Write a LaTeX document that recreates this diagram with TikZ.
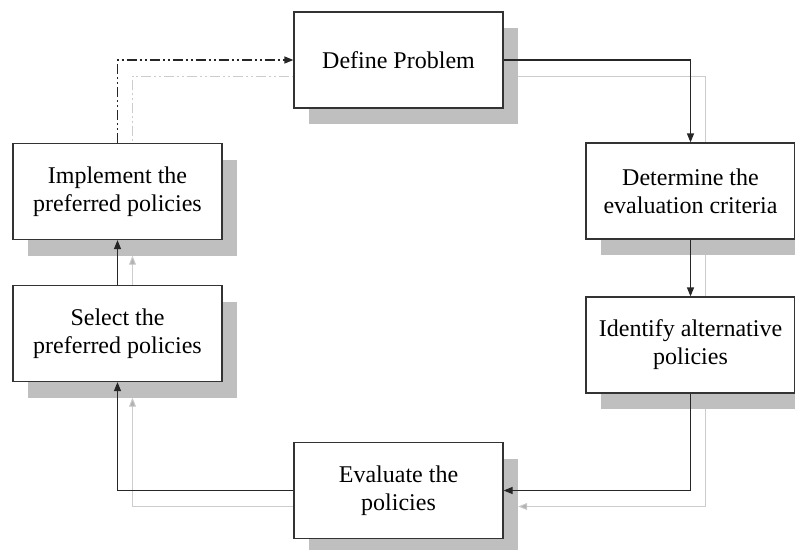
\documentclass[tikz,border=0pt]{standalone}
\usepackage{fontspec}
\setmainfont{Liberation Serif}
\usetikzlibrary{arrows.meta}

\begin{document}
\begin{tikzpicture}[x=1pt,y=1pt,yscale=-1,xscale=1,
    stepbox/.style={draw=black!80, line width=1.2pt, fill=white, minimum width=209pt, minimum height=96pt, inner sep=0pt, align=center, font=\fontsize{24}{28}\selectfont},
    shadebox/.style={fill=black!25, minimum width=209pt, minimum height=96pt, inner sep=0pt},
    flow/.style={draw=black!85, line width=1.2pt, -{Triangle[length=9pt,width=7pt]}},
    shadeflow/.style={draw=black!20, line width=0.9pt, -{Triangle[length=9pt,width=7pt,fill=black!30]}},
    dashdotdot/.style={dash pattern=on 10pt off 3pt on 2pt off 3pt on 2pt off 3pt}]
    %set diagram to 795 x 549
    \path[use as bounding box, clip] (0,0) rectangle (795,549);

    %Shadow layer, offset by (15,16)
    \begin{scope}[shift={(15,16)}]
    \node[shadebox] (defs) at (398.5,60) {};
    \node[shadebox] (dets) at (690.5,191) {};
    \node[shadebox] (ides) at (690.5,345) {};
    \node[shadebox] (evas) at (398.5,490.5) {};
    \node[shadebox] (sels) at (117.5,333.5) {};
    \node[shadebox] (imps) at (117.5,191.5) {};
    \end{scope}
    %Shadow connectors
    \draw[shadeflow] (defs.east) -| (dets.north);
    \draw[shadeflow] (dets.south) -- (ides.north);
    \draw[shadeflow] (ides.south) |- (evas.east);
    \draw[shadeflow] (evas.west) -| (sels.south);
    \draw[shadeflow] (sels.north) -- (imps.south);
    \draw[shadeflow, dashdotdot] (imps.north) |- (defs.west);

    %Boxes
    \node[stepbox] (def) at (398.5,60) {Define Problem};
    \node[stepbox] (det) at (690.5,191) {Determine the\\evaluation criteria};
    \node[stepbox] (ide) at (690.5,345) {Identify alternative\\policies};
    \node[stepbox] (eva) at (398.5,490.5) {Evaluate the\\policies};
    \node[stepbox] (sel) at (117.5,333.5) {Select the\\preferred policies};
    \node[stepbox] (imp) at (117.5,191.5) {Implement the\\preferred policies};

    %Connectors
    \draw[flow] (def.east) -| (det.north);
    \draw[flow] (det.south) -- (ide.north);
    \draw[flow] (ide.south) |- (eva.east);
    \draw[flow] (eva.west) -| (sel.south);
    \draw[flow] (sel.north) -- (imp.south);
    \draw[flow, dashdotdot] (imp.north) |- (def.west);
\end{tikzpicture}
\end{document}
